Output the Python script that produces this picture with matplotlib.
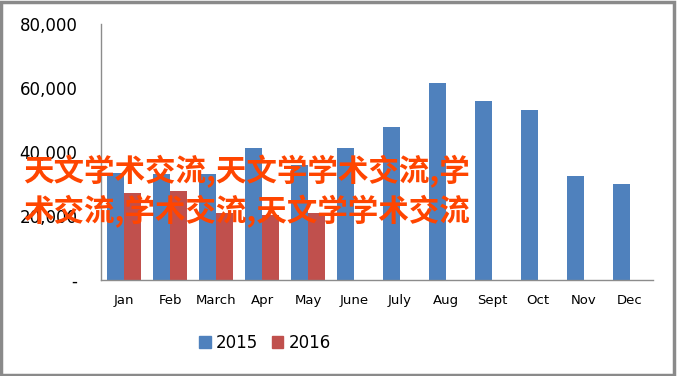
import numpy as np
import matplotlib
matplotlib.use("Agg")
import matplotlib.pyplot as plt
from matplotlib.patches import Patch, Rectangle

months = ["Jan", "Feb", "March", "Apr", "May", "June", "July", "Aug", "Sept", "Oct", "Nov", "Dec"]
sales_2015 = [33500, 33000, 33200, 41300, 36000, 41300, 47900, 61700, 56000, 53200, 32600, 30100]
sales_2016 = [27300, 27900, 21000, 20300, 21000]
yticks = [0, 20000, 40000, 60000, 80000]
ytick_labels = ["-", "20,000", "40,000", "60,000", "80,000"]
overlay = ["天文学术交流,天文学学术交流,学", "术交流,学术交流,天文学学术交流"]

blue = "#4F81BD"
red = "#C0504D"
font = ["DejaVu Sans"]

fig = plt.figure(figsize=(6.77, 3.76), dpi=100)
ax = fig.add_axes([101 / 677, 1 - 280 / 376, 552 / 677, 256 / 376])

x = np.arange(len(months))
w = 0.36
ax.bar(x - w / 2, sales_2015, w, color=blue)
ax.bar(np.arange(len(sales_2016)) + w / 2, sales_2016, w, color=red)

ax.set_xlim(-0.5, len(months) - 0.5)
ax.set_ylim(0, 80000)
ax.set_yticks(yticks)
ax.set_yticklabels(ytick_labels, family=font, fontsize=12)
ax.set_xticks(x)
ax.set_xticklabels(months, family=font, fontsize=9.5)
ax.tick_params(axis="y", length=0, pad=17)
ax.tick_params(axis="x", length=0, pad=10)
for s in ["top", "right"]:
    ax.spines[s].set_visible(False)
for s in ["left", "bottom"]:
    ax.spines[s].set_color("#8c8c8c")
    ax.spines[s].set_linewidth(1)

handles = [Patch(color=blue, label="2015"), Patch(color=red, label="2016")]
fig.legend(handles=handles, loc="center", bbox_to_anchor=(265 / 677, 1 - 343 / 376),
           ncol=2, frameon=False, handlelength=0.7, handleheight=0.7,
           handletextpad=0.3, columnspacing=0.8, prop={"family": font, "size": 12})

# orange overlay text
for i, line in enumerate(overlay):
    fig.text(23 / 677, 1 - (172 + 40 * i) / 376, line, ha="left", va="center",
             color="#FF4500", fontsize=22, fontweight="bold",
             family=["Noto Sans CJK SC", "DejaVu Sans"])

# grey frame round the picture
fig.patches.append(Rectangle((0.002, 0.003), 0.994, 0.993, transform=fig.transFigure,
                             fill=False, edgecolor="#8a8a8a", linewidth=2.5))

fig.savefig("out.png", dpi=100)
